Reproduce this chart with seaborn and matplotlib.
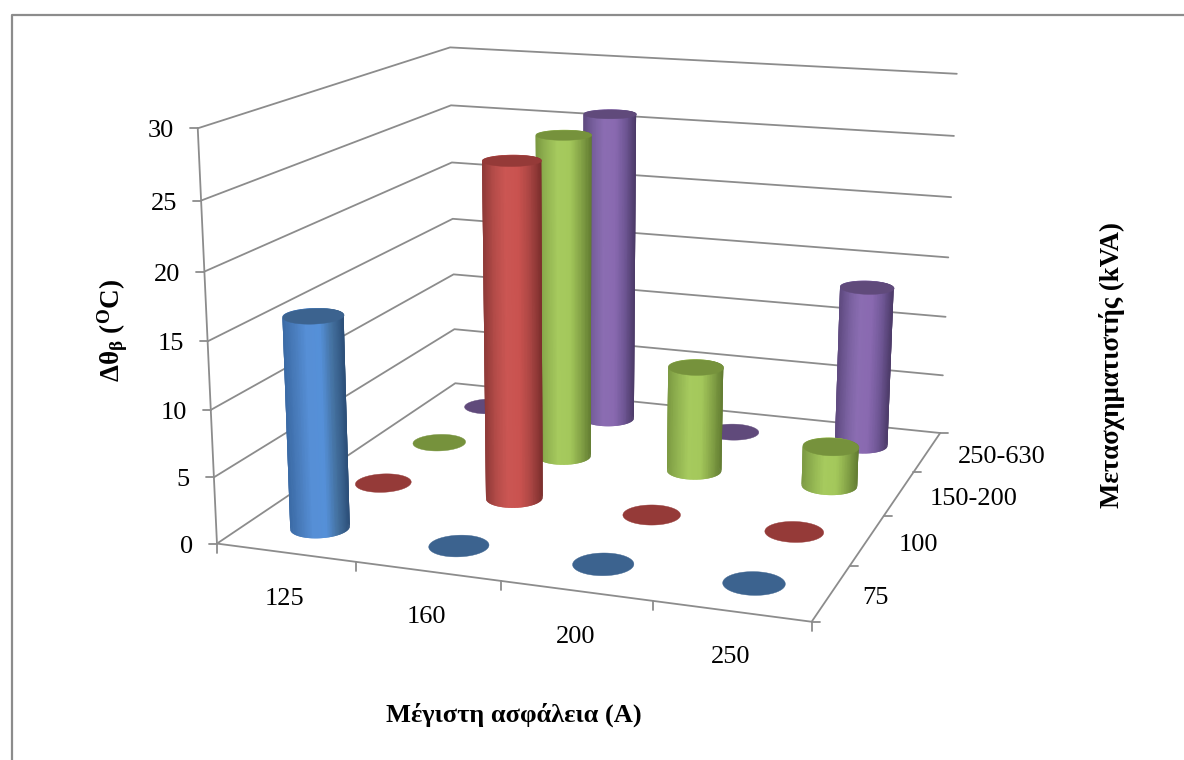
import numpy as np
import pandas as pd
import seaborn as sns
import matplotlib
matplotlib.use("Agg")
import matplotlib.pyplot as plt
from matplotlib.lines import Line2D
from matplotlib.transforms import Affine2D
from mpl_toolkits.mplot3d.art3d import Poly3DCollection

# Chart values
fuses = ["125", "160", "200", "250"]
transformers = ["75", "100", "150-200", "250-630"]
rise_75 = [16.0, 0, 0, 0]
rise_100 = [0, 26.0, 0, 0]
rise_150_200 = [0, 26.1, 8.5, 3.2]
rise_250_630 = [0, 26.05, 0, 13.3]
z_ticks = [0, 5, 10, 15, 20, 25, 30]

body_ramps = [
    ["#3b6ba6", "#4a7dbd", "#568fd6", "#5590d8", "#44719f", "#2b4e78"],
    ["#8f3a38", "#b54c49", "#cb5653", "#c9524f", "#a94543", "#7c2f2d"],
    ["#7c9a42", "#93b552", "#a6ca5e", "#a4c85b", "#86a548", "#637d32"],
    ["#5f4a80", "#79609f", "#8b6db2", "#8969b0", "#6f5795", "#4c3a68"],
]
cap_colors = ["#3c638f", "#953a38", "#76923c", "#604a7b"]
line_gray = "#8c8c8c"

W, H = 1184, 760
RX, RY = 0.195, 0.205

sns.set_theme(style="white")
plt.rcParams["font.family"] = ["Liberation Serif", "DejaVu Serif"]
plt.rcParams["mathtext.default"] = "regular"

table = pd.DataFrame(
    [rise_75, rise_100, rise_150_200, rise_250_630],
    index=transformers, columns=fuses,
)

fig = plt.figure(figsize=(W / 100, H / 100), dpi=100, facecolor="white")
ax = fig.add_axes([0, 0, 1, 1], projection="3d", computed_zorder=False)
ax.set_axis_off()
# The axes fill the whole canvas instead of the default square box
ax.apply_aspect = lambda position=None: None

# Camera: a projective matrix solved from where the box corners sit on the canvas
world = np.array([
    (0, 0, 0), (4, 0, 0), (4, 4, 0), (0, 4, 0),
    (0, 0, 30), (0, 4, 30), (4, 4, 30), (4, 4, 15), (0, 0, 15), (0, 4, 5),
], float)
canvas = np.array([
    (217, 543), (812, 622), (940, 433), (455, 384),
    (198, 129), (450, 47), (957, 74), (948, 257), (207, 341), (455, 329),
], float)
rows = []
for (x, y, z), (u, v) in zip(world, canvas):
    rows.append([x, y, z, 1, 0, 0, 0, 0, -u * x, -u * y, -u * z, -u])
    rows.append([0, 0, 0, 0, x, y, z, 1, -v * x, -v * y, -v * z, -v])
P = np.linalg.svd(np.array(rows))[2][-1].reshape(3, 4)
if P[2, 3] < 0:
    P = -P
P = P / P[2, 3]


def to_canvas(x, y, z):
    h = P @ np.vstack([x, y, z, np.ones_like(x, dtype=float)])
    return h[0] / h[2], h[1] / h[2]


to_fig = Affine2D().scale(1, -1).translate(0, H)
display_to_view = ax.transData.inverted()
o, ex, ey = display_to_view.transform(to_fig.transform([(0, 0), (1, 0), (0, 1)]))
A = np.array([
    [ex[0] - o[0], ey[0] - o[0], o[0]],
    [ex[1] - o[1], ey[1] - o[1], o[1]],
    [0, 0, 1],
])
Pv = A @ P
M = np.vstack([Pv[0], Pv[1], [0, 0, 0, -1], Pv[2]])
ax.get_proj = lambda: M
ax.M = M


def wall_line(xs, ys, zs):
    ax.plot(xs, ys, zs, color=line_gray, lw=1.3, zorder=1, solid_capstyle="round")


for level in z_ticks:
    wall_line([0, 0, 4], [0, 4, 4], [level] * 3)
wall_line([0, 4, 4], [0, 0, 4], [0, 0, 0])
wall_line([0, 0], [0, 0], [0, 30])


def draw_cylinder(cx, cy, height, ramp, cap, order):
    theta = np.linspace(0, 2 * np.pi, 121)
    xs = cx + RX * np.cos(theta)
    ys = cy + RY * np.sin(theta)
    if height > 0:
        u = to_canvas(xs, ys, np.zeros_like(xs))[0]
        t = (u - u.min()) / (u.max() - u.min())
        shades = sns.blend_palette(ramp, n_colors=64)
        # Strips overlap their neighbour so no seam shows between them
        strips, colors = [], []
        n = len(theta) - 1
        for i in range(n):
            j = (i + 2) % n
            strips.append([(xs[i], ys[i], 0), (xs[j], ys[j], 0),
                           (xs[j], ys[j], height), (xs[i], ys[i], height)])
            colors.append(shades[min(int(t[(i + 1) % n] * 64), 63)])
        ax.add_collection3d(Poly3DCollection(
            strips, facecolors=colors, edgecolors="none", linewidths=0,
            zorder=order,
        ))
    top = Poly3DCollection(
        [list(zip(xs, ys, np.full_like(xs, height)))],
        facecolors=cap, edgecolors=cap, linewidths=0.3, zorder=order + 0.5,
    )
    ax.add_collection3d(top)


# Rows are painted from the back wall forward
order = 2
for row in reversed(range(len(transformers))):
    for col, fuse in enumerate(fuses):
        draw_cylinder(col + 0.5, row + 0.5, table.iloc[row, col],
                      body_ramps[row], cap_colors[row], order)
        order += 1


def canvas_line(us, vs, lw=1.3, color=line_gray):
    fig.add_artist(Line2D(us, vs, color=color, lw=lw, transform=to_fig))


def canvas_text(u, v, s, **kw):
    fig.text(u, v, s, transform=to_fig, color="black", **kw)


TICK_SIZE = 19
for level in z_ticks:
    u, v = to_canvas(np.array([0.0]), np.array([0.0]), np.array([float(level)]))
    canvas_line([u[0] - 8, u[0]], [v[0], v[0]])
    canvas_text(u[0] - 24, v[0] + 3, str(level), ha="right", va="center", fontsize=TICK_SIZE)

for i in range(5):
    u, v = to_canvas(np.array([float(i)]), np.array([0.0]), np.array([0.0]))
    canvas_line([u[0], u[0]], [v[0], v[0] + 9])
    u, v = to_canvas(np.array([4.0]), np.array([float(i)]), np.array([0.0]))
    canvas_line([u[0], u[0] + 8], [v[0], v[0]])

for i, label in enumerate(fuses):
    u, v = to_canvas(np.array([i + 0.5]), np.array([0.0]), np.array([0.0]))
    canvas_text(u[0] - 1, v[0] + 46, label, ha="center", va="center", fontsize=TICK_SIZE)
for i, label in enumerate(transformers):
    u, v = to_canvas(np.array([4.0]), np.array([i + 0.5]), np.array([0.0]))
    canvas_text(u[0] + 31, v[0] + 5, label, ha="left", va="center", fontsize=TICK_SIZE)

canvas_text(514, 715, "Μέγιστη ασφάλεια (Α)", ha="center", va="center",
            fontsize=19, fontweight="bold")
canvas_text(1112, 365, "Μετασχηματιστής (kVA)", ha="center", va="center",
            rotation=90, fontsize=19.4, fontweight="bold")
canvas_text(113, 331, "Δθ$_{β}$ ($^{O}$C)", ha="center", va="center",
            rotation=90, fontsize=19.5, fontweight="bold")

# Frame around the chart area, open at the right and bottom
canvas_line([12, 12, W], [H, 15, 15], lw=1.6)

fig.savefig("out.png", dpi=100)
